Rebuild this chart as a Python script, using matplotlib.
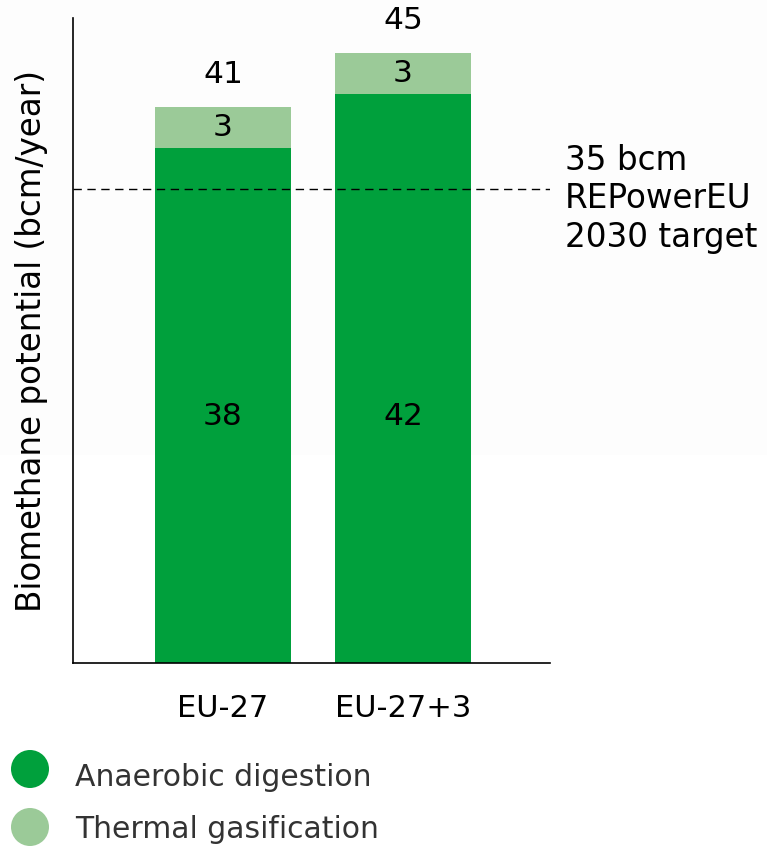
import matplotlib
matplotlib.use("Agg")
import matplotlib.pyplot as plt
from matplotlib.patches import Circle, Rectangle

plt.rcParams['font.family'] = ['DejaVu Sans']

# Biomethane potential by region (bcm/year)
regions = ["EU-27", "EU-27+3"]
anaerobic_digestion = [38, 42]
thermal_gasification = [3, 3]
totals = [a + t for a, t in zip(anaerobic_digestion, thermal_gasification)]
target_value = 35
target_label = "35 bcm\nREPowerEU\n2030 target"
series_names = ["Anaerobic digestion", "Thermal gasification"]

ad_color = "#00a03c"
tg_color = "#9bca98"

W, H = 767, 847
fig = plt.figure(figsize=(W / 100, H / 100), dpi=100)
fig.patch.set_facecolor("white")

# full-figure overlay in pixel units for background tint and legend markers
bg = fig.add_axes([0, 0, 1, 1], zorder=0)
bg.set_xlim(0, W)
bg.set_ylim(H, 0)
bg.axis("off")
bg.add_patch(Rectangle((0, 0), W, 455, facecolor="#fdfdfd", edgecolor="none"))

ax = fig.add_axes([73 / W, (H - 663) / H, (550 - 73) / W, (663 - 18) / H], zorder=1)
ax.patch.set_alpha(0)

x = list(range(len(regions)))
width = 0.756
ax.bar(x, anaerobic_digestion, width=width, color=ad_color, zorder=2)
ax.bar(x, thermal_gasification, width=width, bottom=anaerobic_digestion,
       color=tg_color, zorder=2)

ax.set_xlim(-0.833, 1.817)
ax.set_ylim(0, 47.6)

num_size = 22.5
for xi, ad, tg, tot in zip(x, anaerobic_digestion, thermal_gasification, totals):
    ax.text(xi, 18.2, f"{ad}", ha="center", va="center", fontsize=num_size, color="black")
    ax.text(xi, ad + tg / 2, f"{tg}", ha="center", va="center", fontsize=num_size, color="black")
    ax.text(xi, tot + 2.4, f"{tot}", ha="center", va="center", fontsize=num_size,
            color="black", clip_on=False)

ax.axhline(target_value, color="black", lw=1.0, ls=(0, (6, 4)), zorder=3)
ax.text(1.0 + 15 / 477, 34.25, target_label, transform=ax.get_yaxis_transform(),
        ha="left", va="center", fontsize=23.5, color="black", linespacing=1.22,
        clip_on=False)

for side in ["top", "right"]:
    ax.spines[side].set_visible(False)
ax.spines["left"].set_linewidth(1.2)
ax.spines["bottom"].set_linewidth(1.2)
ax.set_yticks([])
ax.set_xticks(x)
ax.set_xticklabels(regions, fontsize=22)
ax.tick_params(axis="x", length=0, pad=22)
ax.set_ylabel("Biomethane potential (bcm/year)", fontsize=23.5, labelpad=18)

# legend
legend_colors = [ad_color, tg_color]
legend_y = [769, 827]
text_y = [777, 830]
for name, col, cy, ty in zip(series_names, legend_colors, legend_y, text_y):
    bg.add_patch(Circle((30, cy), 19, facecolor=col, edgecolor="none"))
    bg.text(75, ty, name, ha="left", va="center", fontsize=21.5, color="#333333")

fig.savefig("out.png", dpi=100, facecolor="white")
